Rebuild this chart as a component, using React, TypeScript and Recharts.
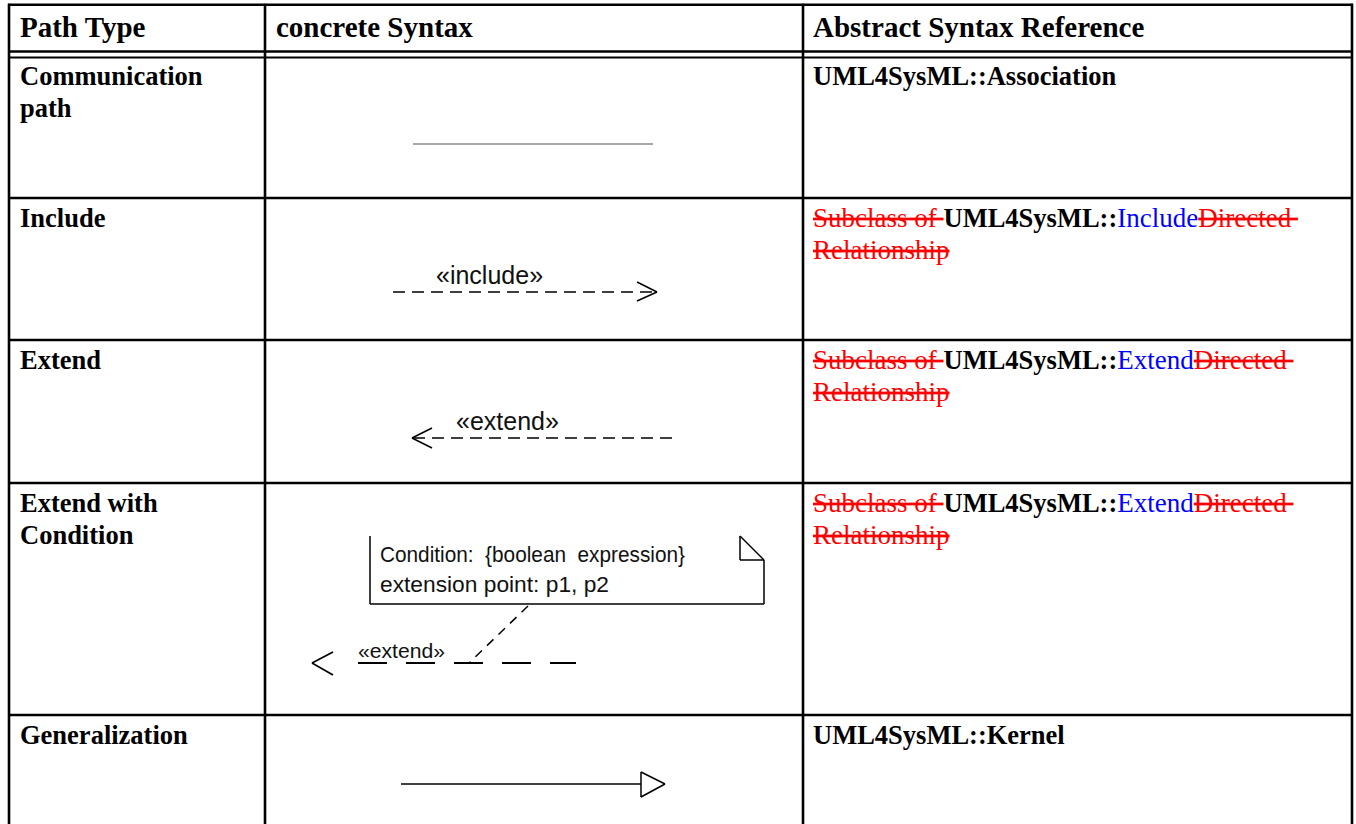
import React from 'react';
import { ComposedChart, XAxis, YAxis, ReferenceLine, Customized } from 'recharts';

// table content
const headers = ['Path Type', 'concrete Syntax', 'Abstract Syntax Reference'];
const pathTypes = [['Communication', 'path'], ['Include'], ['Extend'], ['Extend with', 'Condition'], ['Generalization']];
const refTargets = ['Association', 'Include', 'Extend', 'Extend', 'Kernel'];
const refStruck = [false, true, true, true, false];
const refPrefix = 'UML4SysML::';
const struckBefore = 'Subclass of ';
const struckAfter = 'Directed ';
const struckLine2 = 'Relationship';
const stereotypes = ['«include»', '«extend»', '«extend»'];
const noteLines = ['Condition:  {boolean  expression}', 'extension point: p1, p2'];

const W = 1356;
const H = 824;

// table geometry (pixel space of the hidden axes)
const colX = [9, 265, 803, 1352];
const rowY = [4.7, 51.5, 198, 340, 483, 715];
const headerRule2 = 57.5;
const textX = [20, 276, 813];
const headerBase = 37;
const lineGap = 32;

type Seg = { a: [number, number]; b: [number, number]; dash?: string; color?: string; w?: number };

const diagramSegs: Seg[] = [
  // communication path
  { a: [413, 144], b: [653, 144], color: '#8a8a8a', w: 1.6 },
  // include
  { a: [393, 292], b: [656, 292], dash: '12 7' },
  { a: [637, 282], b: [657, 292] },
  { a: [637, 301], b: [657, 292] },
  // extend
  { a: [413, 438], b: [673, 438], dash: '12 7' },
  { a: [432, 428], b: [412, 438] },
  { a: [432, 448], b: [412, 438] },
  // extend with condition: note
  { a: [370, 536], b: [370, 604] },
  { a: [370, 604], b: [764, 604] },
  { a: [764, 560], b: [764, 604] },
  { a: [740, 536], b: [740, 560] },
  { a: [740, 560], b: [764, 560] },
  { a: [740, 536], b: [764, 560] },
  { a: [528, 606], b: [470, 662], dash: '9 7' },
  { a: [358, 663], b: [576, 663], dash: '29 19', w: 1.8 },
  { a: [333, 652], b: [312, 663], w: 1.8 },
  { a: [333, 675], b: [312, 663], w: 1.8 },
  // generalization
  { a: [401, 784], b: [641, 784] },
  { a: [641, 772], b: [641, 797] },
  { a: [641, 772], b: [665, 784] },
  { a: [641, 797], b: [665, 784] },
];

const serif = '"Liberation Serif", "Times New Roman", serif';
const sans = '"Liberation Sans", Arial, sans-serif';

const strike: React.CSSProperties = { textDecoration: 'line-through' };

const TableText = () => (
  <g>
    {headers.map((h, i) => (
      <text key={h} x={textX[i]} y={headerBase} fontFamily={serif} fontWeight="bold" fontSize={29} fill="#000">
        {h}
      </text>
    ))}
    {pathTypes.map((lines, r) =>
      lines.map((l, j) => (
        <text key={`p${r}${j}`} x={textX[0]} y={rowY[r + 1] + (r === 0 ? 33 : 29) + j * lineGap}
          fontFamily={serif} fontWeight="bold" fontSize={26.5} fill="#000">
          {l}
        </text>
      ))
    )}
    {refTargets.map((t, r) => {
      const y = rowY[r + 1] + (r === 0 ? 33 : 29);
      return (
        <g key={`r${r}`}>
          <text x={textX[2]} y={y} fontFamily={serif} fontSize={27} style={{ whiteSpace: 'pre' }}>
            {refStruck[r] && <tspan fill="#ff0000" style={strike}>{struckBefore}</tspan>}
            <tspan fill="#000" fontWeight="bold" fontSize={26.5}>{refPrefix}</tspan>
            <tspan fill={refStruck[r] ? '#0000ff' : '#000'} fontWeight={refStruck[r] ? 'normal' : 'bold'} fontSize={refStruck[r] ? 27 : 26.5}>{t}</tspan>
            {refStruck[r] && <tspan fill="#ff0000" style={strike}>{struckAfter}</tspan>}
          </text>
          {refStruck[r] && (
            <text x={textX[2]} y={y + lineGap} fontFamily={serif} fontSize={27} fill="#ff0000" style={strike}>
              {struckLine2}
            </text>
          )}
        </g>
      );
    })}
    <text x={436} y={284} fontFamily={sans} fontSize={25} fill="#111">{stereotypes[0]}</text>
    <text x={456} y={430} fontFamily={sans} fontSize={25} fill="#111">{stereotypes[1]}</text>
    <text x={358} y={658} fontFamily={sans} fontSize={21} fill="#111" textLength={87} lengthAdjust="spacingAndGlyphs">{stereotypes[2]}</text>
    <text x={380} y={562} fontFamily={sans} fontSize={22} fill="#111" textLength={305} lengthAdjust="spacingAndGlyphs" style={{ whiteSpace: 'pre' }}>{noteLines[0]}</text>
    <text x={380} y={592} fontFamily={sans} fontSize={22} fill="#111" textLength={229} lengthAdjust="spacingAndGlyphs">{noteLines[1]}</text>
  </g>
);

export default function App() {
  return (
    <div style={{ position: 'absolute', left: 0, top: 0, width: W, height: H, background: '#fff' }}>
      <ComposedChart width={W} height={H} data={[{ x: 0, y: 0 }]} margin={{ top: 0, right: 0, bottom: 0, left: 0 }}>
        <XAxis type="number" dataKey="x" domain={[0, W]} hide allowDataOverflow />
        <YAxis type="number" dataKey="y" domain={[0, H]} reversed hide allowDataOverflow />
        {/* grid: columns */}
        {colX.map((x, i) => (
          <ReferenceLine key={`c${i}`} segment={[{ x, y: rowY[0] - 1 }, { x, y: H }]} stroke="#000" strokeWidth={2.6} ifOverflow="visible" />
        ))}
        {/* grid: rows */}
        {rowY.map((y, i) => (
          <ReferenceLine key={`r${i}`} segment={[{ x: colX[0] - 1, y }, { x: colX[3] + 1, y }]} stroke="#000" strokeWidth={2.6} ifOverflow="visible" />
        ))}
        <ReferenceLine segment={[{ x: colX[0], y: headerRule2 }, { x: colX[3], y: headerRule2 }]} stroke="#000" strokeWidth={1.8} ifOverflow="visible" />
        {diagramSegs.map((s, i) => (
          <ReferenceLine key={`d${i}`} segment={[{ x: s.a[0], y: s.a[1] }, { x: s.b[0], y: s.b[1] }]}
            stroke={s.color || '#000'} strokeWidth={s.w || 1.5} strokeDasharray={s.dash} ifOverflow="visible" />
        ))}
        <Customized component={TableText} />
      </ComposedChart>
    </div>
  );
}
